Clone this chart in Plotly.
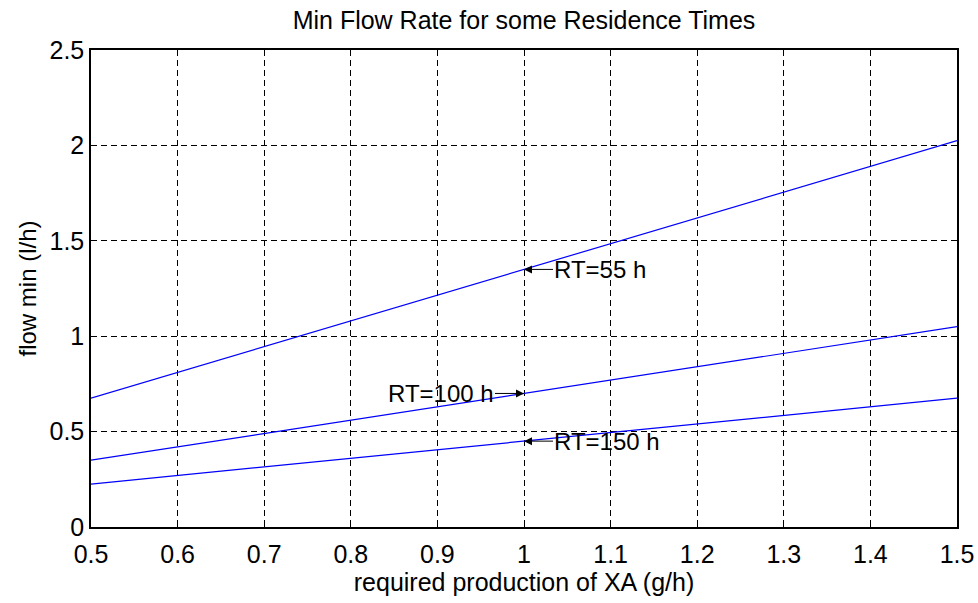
import plotly.graph_objects as go

x_prod = [0.5, 1.0, 1.5]
flow_rt55 = [0.675, 1.35, 2.025]
flow_rt100 = [0.35, 0.70, 1.05]
flow_rt150 = [0.225, 0.45, 0.675]

x_ticks = [0.5, 0.6, 0.7, 0.8, 0.9, 1.0, 1.1, 1.2, 1.3, 1.4, 1.5]
x_tick_labels = ["0.5", "0.6", "0.7", "0.8", "0.9", "1", "1.1", "1.2", "1.3", "1.4", "1.5"]
y_ticks = [0, 0.5, 1, 1.5, 2, 2.5]
y_tick_labels = ["0", "0.5", "1", "1.5", "2", "2.5"]

# (x, y, text, side) side: text to the right (+) or left (-) of the arrow
labels = [
    (1.0, 1.35, "RT=55 h", 1),
    (1.0, 0.70, "RT=100 h", -1),
    (1.0, 0.45, "RT=150 h", 1),
]

FONT = "Liberation Sans, Arial, sans-serif"

fig = go.Figure()
for ys in (flow_rt55, flow_rt100, flow_rt150):
    fig.add_trace(go.Scatter(x=x_prod, y=ys, mode="lines",
                             line=dict(color="#0000ff", width=1.2),
                             showlegend=False, hoverinfo="skip"))

for lx, ly, txt, side in labels:
    fig.add_annotation(x=lx, y=ly, text=txt, showarrow=True,
                       ax=29 * side, ay=0, axref="pixel", ayref="pixel",
                       xanchor="left" if side > 0 else "right", yanchor="middle",
                       arrowhead=2, arrowsize=1.6, arrowwidth=1, arrowcolor="black",
                       standoff=0, startstandoff=0, borderpad=0,
                       font=dict(family=FONT, size=24, color="black"))

axis_common = dict(
    showgrid=True, gridcolor="black", gridwidth=1, griddash="6px,4px",
    showline=True, linecolor="black", linewidth=1.5, mirror="ticks",
    ticks="inside", ticklen=6, tickcolor="black", zeroline=False,
    automargin=False,
    tickfont=dict(family=FONT, size=25, color="black"),
)

fig.update_xaxes(range=[0.5, 1.5], tickvals=x_ticks, ticktext=x_tick_labels,
                 ticklabelstandoff=4,
                 title=dict(text="required production of XA (g/h)",
                            font=dict(family=FONT, size=25, color="black"), standoff=6),
                 **axis_common)
fig.update_yaxes(range=[0, 2.5], tickvals=y_ticks, ticktext=y_tick_labels,
                 title=dict(text="flow min (l/h)",
                            font=dict(family=FONT, size=24, color="black"), standoff=6),
                 **axis_common)

fig.update_layout(
    width=978, height=603,
    margin=dict(l=91, r=21, t=50, b=76),
    paper_bgcolor="white", plot_bgcolor="white",
    title=dict(text="Min Flow Rate for some Residence Times", x=0.5, xref="paper",
               xanchor="center", y=1 - 20 / 603, yanchor="middle",
               font=dict(family=FONT, size=25, color="black")),
)

fig.write_html("out.html")
